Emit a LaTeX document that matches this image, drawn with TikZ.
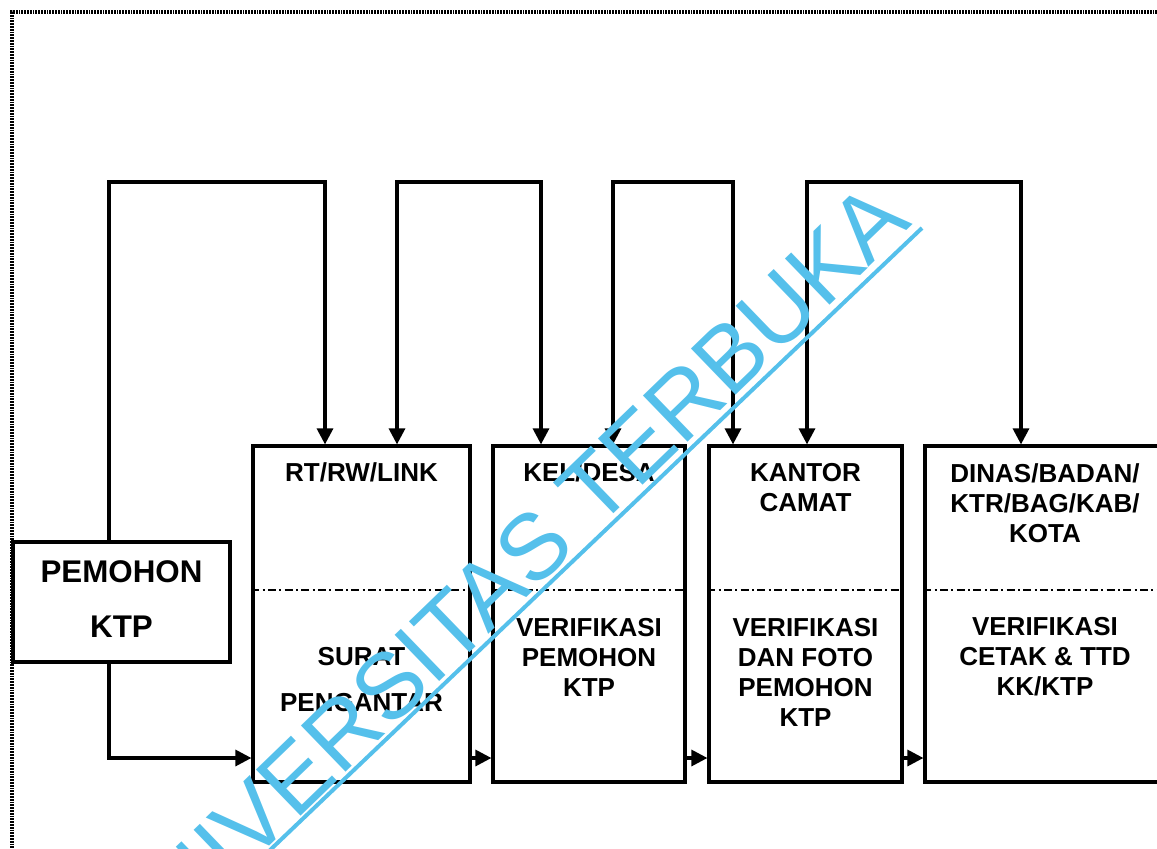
\documentclass[tikz,border=0pt]{standalone}
\usepackage{fontspec}
\setmainfont{Liberation Sans}
\usetikzlibrary{arrows.meta}
\definecolor{wm}{RGB}{85,192,235}
\begin{document}
\begin{tikzpicture}[x=0.75pt,y=-0.75pt,
  >={Triangle[length=12pt,width=12pt]},
  box/.style={draw, line width=2.4pt, inner sep=0, minimum height=252pt},
  lbl/.style={font=\bfseries\fontsize{19.5}{22.5}\selectfont, align=center, inner sep=0},
  conn/.style={line width=2.4pt},
  divider/.style={line width=1.8pt, dash pattern=on 6pt off 2.5pt on 1.5pt off 2.5pt},
  frame/.style={line width=2.6pt, dash pattern=on 1.3pt off 0.8pt}]
\useasboundingbox (0,0) rectangle (1157,849);
\clip (0,0) rectangle (1157,849);
% outer dotted frame
\draw[frame] (1160,12) -- (12,12) -- (12,852);
% boxes
\node[box, minimum width=162.75pt, minimum height=90pt] (p) at (121.5,602) {};
\node[box, minimum width=162.75pt] (b1) at (361.5,614) {};
\node[box, minimum width=144pt] (b2) at (589,614) {};
\node[box, minimum width=144.75pt] (b3) at (805.5,614) {};
\node[box, minimum width=180pt] (b4) at (1045,614) {};
% dividers
\coordinate (d) at (0,590);
\foreach \b in {b1,b2,b3,b4}{
  \draw[divider] (\b.west |- d) -- (\b.east |- d);
}
% texts
\node[lbl, font=\bfseries\fontsize{23.5}{41.25}\selectfont] (pt) at (121.5,599.5) {PEMOHON\\KTP};
\node[lbl] (t1) at (361.5,472) {RT/RW/LINK};
\node[lbl] (s1) at (361.5,680) {SURAT\\[12pt]PENGANTAR};
\node[lbl] (t2) at (589,472) {KEL/DESA};
\node[lbl] (s2) at (589,657) {VERIFIKASI\\PEMOHON\\KTP};
\node[lbl] (t3) at (805.5,487.5) {KANTOR\\CAMAT};
\node[lbl] (s3) at (805.5,672) {VERIFIKASI\\DAN FOTO\\PEMOHON\\KTP};
\node[lbl] (t4) at (1045,503) {DINAS/BADAN/\\KTR/BAG/KAB/\\KOTA};
\node[lbl] (s4) at (1045,657) {VERIFIKASI\\CETAK \& TTD\\KK/KTP};
% top loops
\coordinate (c1) at (109,182);
\coordinate (c2) at (325,182);
\coordinate (c3) at (397,182);
\coordinate (c4) at (541,182);
\coordinate (c5) at (613,182);
\coordinate (c6) at (733,182);
\coordinate (c7) at (807,182);
\coordinate (c8) at (1021,182);
\draw[conn,->] (p.north -| c1) -- (c1) -- (c2) -- (c2 |- b1.north);
\draw[conn,<->] (b1.north -| c3) -- (c3) -- (c4) -- (c4 |- b2.north);
\draw[conn,<->] (b2.north -| c5) -- (c5) -- (c6) -- (c6 |- b3.north);
\draw[conn,<->] (b3.north -| c7) -- (c7) -- (c8) -- (c8 |- b4.north);
% bottom flow
\coordinate (h) at (0,758);
\draw[conn,->] (p.south -| c1) |- (b1.west |- h);
\draw[conn,->] (b1.east |- h) -- (b2.west |- h);
\draw[conn,->] (b2.east |- h) -- (b3.west |- h);
\draw[conn,->] (b3.east |- h) -- (b4.west |- h);
% watermark
\node[font=\fontsize{70}{70}\selectfont, text=wm, rotate=44, anchor=base east, inner sep=0] (wmk) at (914,224) {UNIVERSITAS TERBUKA};
\coordinate (w1) at (268,852);
\coordinate (w2) at (922,228);
\draw[wm, line width=3pt] (w1) -- (w2);
\end{tikzpicture}
\end{document}
